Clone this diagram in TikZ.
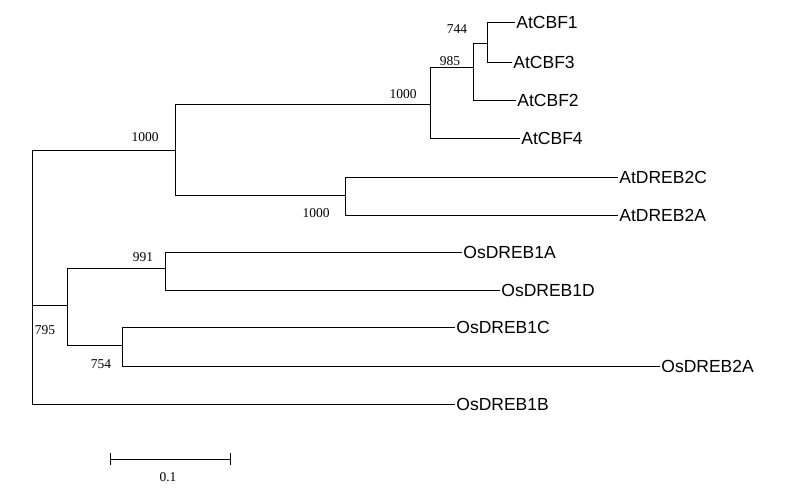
\documentclass[tikz,border=0pt]{standalone}
\usepackage{fontspec}
\setmainfont{Liberation Serif}
\setsansfont{Liberation Sans}
\begin{document}
\begin{tikzpicture}[x=1pt,y=-1pt,line width=0.8pt,
  leaf/.style={anchor=west,inner sep=1pt,font=\sffamily\fontsize{17.5}{17.5}\selectfont},
  bs/.style={inner sep=1pt,font=\rmfamily\fontsize{13.5}{13.5}\selectfont}]
\useasboundingbox[fill=white] (0,0) rectangle (800,489);
% coordinates
\coordinate (r1) at (32,150); \coordinate (r2) at (32,404);
\coordinate (a) at (175,150);
\coordinate (b) at (430,104);
\coordinate (c) at (473,67);
\coordinate (d) at (487,43);
\coordinate (e) at (345,195);
\coordinate (f) at (67,305);
\coordinate (g) at (165,268);
\coordinate (h) at (122,345);
% leaves
\node[leaf] (L1) at (515,22) {AtCBF1};
\node[leaf] (L2) at (512,62) {AtCBF3};
\node[leaf] (L3) at (516,100) {AtCBF2};
\node[leaf] (L4) at (520,138) {AtCBF4};
\node[leaf] (L5) at (618,177) {AtDREB2C};
\node[leaf] (L6) at (618,215) {AtDREB2A};
\node[leaf] (L7) at (462,252) {OsDREB1A};
\node[leaf] (L8) at (500,290) {OsDREB1D};
\node[leaf] (L9) at (455,327) {OsDREB1C};
\node[leaf] (L10) at (660,366) {OsDREB2A};
\node[leaf] (L11) at (455,404) {OsDREB1B};
% branches
\draw (r1) -- (r2);
\draw (r1) -- (a);
\draw (175,104) -- (175,195);
\draw (175,104) -- (b);
\draw (430,67) -- (430,138) -- (L4.west);
\draw (430,67) -- (c);
\draw (473,43) -- (473,100) -- (L3.west);
\draw (473,43) -- (d);
\draw (487,22) -- (487,62) -- (L2.west);
\draw (487,22) -- (L1.west);
\draw (175,195) -- (e);
\draw (345,177) -- (345,215) -- (L6.west);
\draw (345,177) -- (L5.west);
\draw (32,305) -- (f);
\draw (67,268) -- (67,345);
\draw (67,268) -- (g);
\draw (165,252) -- (165,290) -- (L8.west);
\draw (165,252) -- (L7.west);
\draw (67,345) -- (h);
\draw (122,327) -- (122,366) -- (L10.west);
\draw (122,327) -- (L9.west);
\draw (r2) -- (L11.west);
% bootstrap
\node[bs] (b1) at (457,29) {744};
\node[bs] (b2) at (450,61) {985};
\node[bs] (b3) at (403,94) {1000};
\node[bs] (b4) at (145,137) {1000};
\node[bs] (b5) at (316,213) {1000};
\node[bs] (b6) at (143,257) {991};
\node[bs] (b7) at (45,330) {795};
\node[bs] (b8) at (101,364) {754};
% scale
\coordinate (s1) at (110,459); \coordinate (s2) at (230,459);
\draw (s1) -- (s2);
\draw (110,453) -- (110,465);
\draw (230,453) -- (230,465);
\node[bs] (sl) at (168,477) {0.1};
\end{tikzpicture}
\end{document}
